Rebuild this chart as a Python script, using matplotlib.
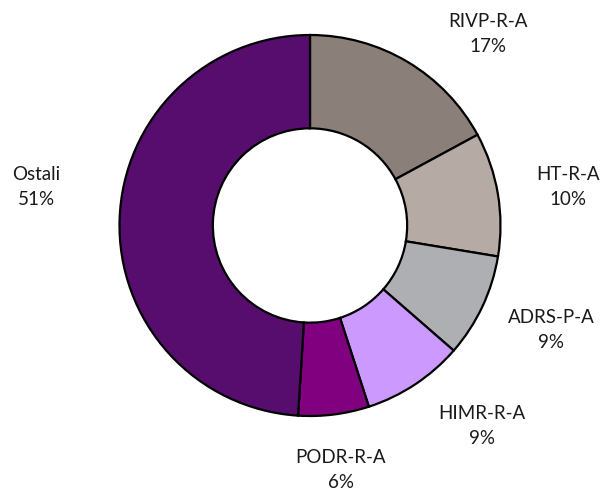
import matplotlib
matplotlib.use('Agg')
import matplotlib.pyplot as plt

# shares; labels as printed on the chart
categories = ['RIVP-R-A', 'HT-R-A', 'ADRS-P-A', 'HIMR-R-A', 'PODR-R-A', 'Ostali']
shares = [17.1, 10.5, 8.8, 8.6, 6.0, 49.0]
pct_labels = ['17%', '10%', '9%', '9%', '6%', '51%']
colors = ['#8b8079', '#b5aba4', '#aeafb2', '#cc99ff', '#800080', '#560d6e']

# label block centres in pixels (x from left, y from top)
label_px = [(488, 34), (568, 187), (551, 330), (482, 426), (341, 470), (36, 187)]

W, H = 605, 490
cx, cy, R = 310, 225.5, 190.5

fig = plt.figure(figsize=(W / 100, H / 100), dpi=100)
ax = fig.add_axes([0, 0, 1, 1])

ax.pie(shares, colors=colors, startangle=90, counterclock=False, radius=1,
       wedgeprops=dict(width=0.49, edgecolor='black', linewidth=1.6))

ax.set_xlim(-cx / R, (W - cx) / R)
ax.set_ylim(-(H - cy) / R, cy / R)
ax.set_aspect('equal')
ax.axis('off')

for name, pct, (px, py) in zip(categories, pct_labels, label_px):
    ax.text((px - cx) / R, (cy - py) / R, name + '\n' + pct,
            ha='center', va='center', fontsize=13.5, family='Lato',
            color='#1a1a1a', linespacing=1.55)

fig.savefig('out.png', dpi=100)
